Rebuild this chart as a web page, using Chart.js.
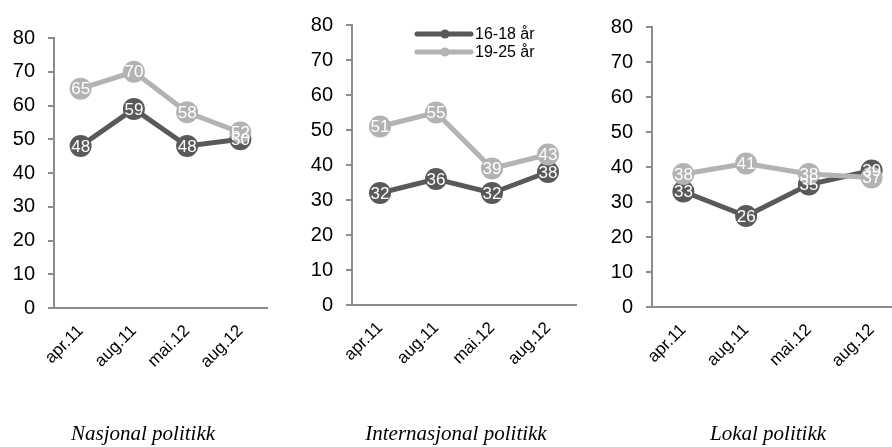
<!DOCTYPE html>
<html>
<head>
<meta charset="utf-8">
<script src="https://cdn.jsdelivr.net/npm/chart.js@4/dist/chart.umd.min.js"></script>
<style>
  html, body { margin: 0; padding: 0; background: #fff; width: 892px; height: 447px; overflow: hidden; position: relative; }
  canvas { position: absolute; top: 0; }
  .title { position: absolute; top: 423px; font-family: "Liberation Serif", "Times New Roman", serif; font-style: italic; font-size: 21px; line-height: 21px; color: #000; white-space: nowrap; transform: translateX(-50%); }
</style>
</head>
<body>
<canvas id="c1" width="290" height="447" style="left:0px;width:290px;height:447px"></canvas>
<canvas id="c2" width="310" height="447" style="left:290px;width:310px;height:447px"></canvas>
<canvas id="c3" width="320" height="447" style="left:600px;width:320px;height:447px"></canvas>
<div class="title" id="t1" style="left:143px"></div>
<div class="title" id="t2" style="left:456px"></div>
<div class="title" id="t3" style="left:768px"></div>
<script>
// ---- data ----
const categories = ['apr.11', 'aug.11', 'mai.12', 'aug.12'];
const seriesNames = ['16-18 år', '19-25 år'];
const panelTitles = ['Nasjonal politikk', 'Internasjonal politikk', 'Lokal politikk'];
const nasjonal1618 = [48, 59, 48, 50];
const nasjonal1925 = [65, 70, 58, 52];
const internasjonal1618 = [32, 36, 32, 38];
const internasjonal1925 = [51, 55, 39, 43];
const lokal1618 = [33, 26, 35, 39];
const lokal1925 = [38, 41, 38, 37];
const yMin = 0, yMax = 80, yStep = 10;

// ---- styles ----
const DARK = '#595959';
const LIGHT = '#b3b3b3';
const AXIS = '#8c8c8c';
const SANS = '"Liberation Sans", Arial, sans-serif';

const valueLabels = {
  id: 'valueLabels',
  afterDatasetsDraw(chart) {
    const ctx = chart.ctx;
    ctx.save();
    ctx.font = '17px ' + SANS;
    ctx.fillStyle = '#ffffff';
    ctx.textAlign = 'center';
    ctx.textBaseline = 'middle';
    const metas = chart.getSortedVisibleDatasetMetas().slice().reverse();
    metas.forEach(meta => {
      const ds = chart.data.datasets[meta.index];
      meta.data.forEach((pt, i) => {
        ctx.fillText(String(ds.data[i]), pt.x, pt.y + 1);
      });
    });
    ctx.restore();
  }
};

const innerLegend = {
  id: 'innerLegend',
  afterDraw(chart, args, opts) {
    if (!opts || !opts.show) return;
    const ctx = chart.ctx;
    ctx.save();
    const items = [{ name: seriesNames[0], color: DARK }, { name: seriesNames[1], color: LIGHT }];
    items.forEach((it, k) => {
      const y = opts.y + k * 18;
      ctx.strokeStyle = it.color;
      ctx.lineWidth = 5;
      ctx.lineCap = 'round';
      ctx.beginPath();
      ctx.moveTo(opts.x, y);
      ctx.lineTo(opts.x + 54, y);
      ctx.stroke();
      ctx.fillStyle = it.color;
      ctx.beginPath();
      ctx.arc(opts.x + 28, y, 4.5, 0, Math.PI * 2);
      ctx.fill();
      ctx.fillStyle = '#000';
      ctx.font = '16px ' + SANS;
      ctx.textAlign = 'left';
      ctx.textBaseline = 'middle';
      ctx.fillText(it.name, opts.x + 58, y + 1);
    });
    ctx.restore();
  }
};

function makePanel(id, d1618, d1925, geom, legend) {
  const ctx = document.getElementById(id).getContext('2d');
  return new Chart(ctx, {
    type: 'line',
    data: {
      labels: categories,
      datasets: [
        { label: seriesNames[0], data: d1618, borderColor: DARK, backgroundColor: DARK,
          borderWidth: 5, pointRadius: 11, pointHoverRadius: 11, pointBorderWidth: 0, order: 1 },
        { label: seriesNames[1], data: d1925, borderColor: LIGHT, backgroundColor: LIGHT,
          borderWidth: 5, pointRadius: 11, pointHoverRadius: 11, pointBorderWidth: 0, order: 0 }
      ]
    },
    options: {
      responsive: false,
      animation: false,
      devicePixelRatio: 1,
      layout: { padding: { top: geom.top, right: geom.right, left: 0, bottom: 0 } },
      plugins: {
        legend: { display: false },
        tooltip: { enabled: false },
        innerLegend: legend || { show: false }
      },
      scales: {
        x: {
          offset: true,
          grid: { display: false, drawTicks: false },
          border: { display: true, color: AXIS, width: 2 },
          ticks: { color: '#000', font: { family: SANS, size: 17 }, minRotation: 45, maxRotation: 45, autoSkip: false, padding: 13 },
          afterFit: s => { s.height = geom.xh; }
        },
        y: {
          min: yMin, max: yMax,
          grid: { display: true, drawOnChartArea: false, drawTicks: true, tickLength: 6, color: AXIS, lineWidth: 2 },
          border: { display: true, color: AXIS, width: 2 },
          ticks: { stepSize: yStep, color: '#000', font: { family: SANS, size: 20 }, padding: 13 },
          afterFit: s => { s.width = geom.yw; }
        }
      }
    },
    plugins: [valueLabels, innerLegend]
  });
}

makePanel('c1', nasjonal1618, nasjonal1925, { top: 38, right: 23, yw: 54, xh: 447 - 308 });
makePanel('c2', internasjonal1618, internasjonal1925, { top: 21, right: 24, yw: 62, xh: 447 - 305 },
  { show: true, x: 127, y: 34 });
makePanel('c3', lokal1618, lokal1925, { top: 27, right: 17, yw: 52, xh: 447 - 307 });

document.getElementById('t1').textContent = panelTitles[0];
document.getElementById('t2').textContent = panelTitles[1];
document.getElementById('t3').textContent = panelTitles[2];
</script>
</body>
</html>
